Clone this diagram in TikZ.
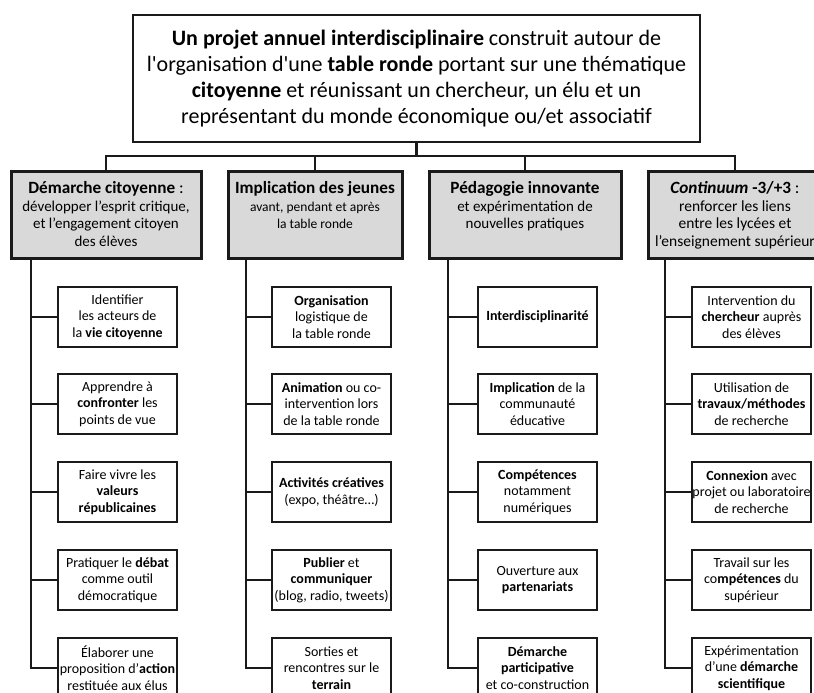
\documentclass[tikz,border=0pt]{standalone}
\usepackage{fontspec}
\setmainfont{Carlito}
\definecolor{headgray}{HTML}{D9D9D9}
\definecolor{ink}{HTML}{1A1A1A}
\newcommand{\hdrtext}[4]{\begin{minipage}[t][80pt][t]{#1}\centering\vspace*{7pt}{\fontsize{17.2}{17.5}\selectfont #2}\\\fontsize{#3}{17.5}\selectfont #4\end{minipage}}
\begin{document}
\begin{tikzpicture}[x=1pt,y=-1pt,
  topbox/.style={draw=ink, line width=2.2pt, minimum width=567pt, minimum height=127pt, align=center, inner sep=0pt, font=\fontsize{22}{26}\selectfont},
  headbox/.style={draw=ink, line width=3pt, fill=headgray, inner sep=0pt, minimum height=87pt},
  itembox/.style={draw=ink, line width=1.4pt, minimum width=119pt, minimum height=60pt, inner sep=0pt, align=center, font=\fontsize{14}{16.5}\selectfont},
  conn/.style={draw=ink, line width=2.5pt}
]
\useasboundingbox (0,0) rectangle (814,693);
\clip (0,0) rectangle (814,693);

\node[topbox] (top) at (416.5,78.5) {\textbf{Un projet annuel interdisciplinaire} construit autour de\\l\textquotesingle organisation d\textquotesingle une \textbf{table ronde} portant sur une thématique\\\textbf{citoyenne} et réunissant un chercheur, un élu et un\\représentant du monde économique ou/et associatif};

\node[headbox, minimum width=190pt] (h1) at (106,214.5) {\hdrtext{188pt}{\textbf{Démarche citoyenne} :}{15}{développer l’esprit critique,\\et l’engagement citoyen\\des élèves}};
\node[headbox, minimum width=174pt] (h2) at (315,214.5) {\hdrtext{172pt}{\textbf{Implication des jeunes}}{13.5}{avant, pendant et après\\la table ronde}};
\node[headbox, minimum width=192pt] (h3) at (525,214.5) {\hdrtext{190pt}{\textbf{Pédagogie innovante}}{15}{et expérimentation de\\nouvelles pratiques}};
\node[headbox, minimum width=174pt] (h4) at (735,214.5) {\hdrtext{172pt}{\textbf{\textit{Continuum}} \textbf{-3/+3} :}{15.5}{renforcer les liens\\entre les lycées et\\l’enseignement supérieur}};

% column 1
\node[itembox] (c11) at (117.5,317) {Identifier\\les acteurs de\\la \textbf{vie citoyenne}};
\node[itembox] (c12) at (117.5,404) {Apprendre à\\\textbf{confronter} les\\points de vue};
\node[itembox] (c13) at (117.5,492) {Faire vivre les\\\textbf{valeurs}\\\textbf{républicaines}};
\node[itembox] (c14) at (117.5,580) {Pratiquer le \textbf{débat}\\comme outil\\démocratique};
\node[itembox] (c15) at (117.5,668) {Élaborer une\\\makebox[110pt]{proposition d’\textbf{action}}\\restituée aux élus};
% column 2
\node[itembox] (c21) at (331.5,317) {\textbf{Organisation}\\logistique de\\la table ronde};
\node[itembox] (c22) at (331.5,404) {\textbf{Animation} ou co-\\intervention lors\\de la table ronde};
\node[itembox] (c23) at (331.5,492) {\textbf{Activités créatives}\\(expo, théâtre…)};
\node[itembox] (c24) at (331.5,580) {\textbf{Publier} et\\\textbf{communiquer}\\(blog, radio, tweets)};
\node[itembox] (c25) at (331.5,668) {Sorties et\\rencontres sur le\\\textbf{terrain}};
% column 3
\node[itembox] (c31) at (537.5,317) {\textbf{Interdisciplinarité}};
\node[itembox] (c32) at (537.5,404) {\textbf{Implication} de la\\communauté\\éducative};
\node[itembox] (c33) at (537.5,492) {\textbf{Compétences}\\notamment\\numériques};
\node[itembox] (c34) at (537.5,580) {Ouverture aux\\\textbf{partenariats}};
\node[itembox] (c35) at (537.5,668) {\textbf{Démarche}\\\textbf{participative}\\et co-construction};
% column 4
\node[itembox] (c41) at (751.5,317) {Intervention du\\\textbf{chercheur} auprès\\des élèves};
\node[itembox] (c42) at (751.5,404) {Utilisation de\\\makebox[110pt]{\textbf{travaux/méthodes}}\\de recherche};
\node[itembox] (c43) at (751.5,492) {\textbf{Connexion} avec\\\makebox[110pt]{projet ou laboratoire}\\de recherche};
\node[itembox] (c44) at (751.5,580) {Travail sur les\\co\textbf{mpétences} du\\supérieur};
\node[itembox] (c45) at (751.5,668) {Expérimentation\\d’une \textbf{démarche}\\\textbf{scientifique}};

% top connectors
\coordinate (bus) at (416.5,156);
\draw[conn] (top.south) -- (bus);
\foreach \h in {h1,h2,h3,h4} \draw[conn] (\h.north) |- (bus);

% column spines
\coordinate (v1) at (31,258);
\coordinate (v2) at (246,258);
\coordinate (v3) at (448,258);
\coordinate (v4) at (665,258);
\foreach \c in {1,2,3,4} {
  \draw[conn] (v\c) |- (c\c5.west);
  \foreach \k in {1,2,3,4} \draw[conn] (c\c\k.west) -- (c\c\k.west -| v\c);
}
\end{tikzpicture}
\end{document}
